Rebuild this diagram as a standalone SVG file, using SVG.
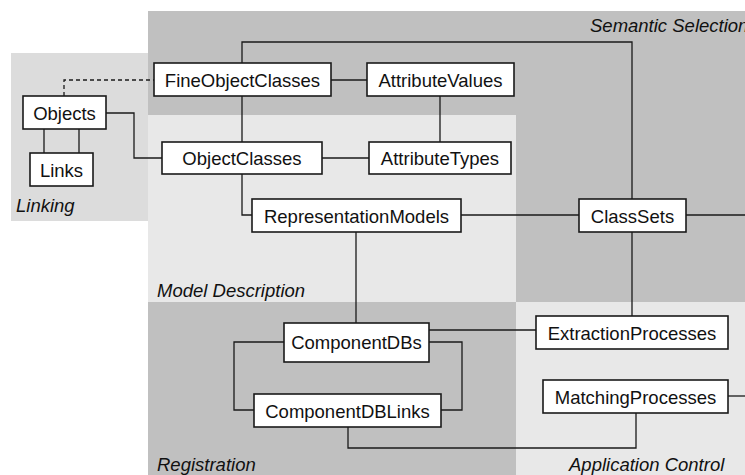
<svg xmlns="http://www.w3.org/2000/svg" width="745" height="475" viewBox="0 0 745 475">
  <style>
    .node rect { fill: #ffffff; stroke: #1a1a1a; stroke-width: 1.6; }
    .node text { font-family: "Liberation Sans", Arial, sans-serif; font-size: 18.5px; fill: #111; text-anchor: middle; }
    .area { font-family: "Liberation Sans", Arial, sans-serif; font-size: 18.5px; font-style: italic; fill: #111; }
    .links path { fill: none; stroke: #1a1a1a; stroke-width: 1.3; }
    .links .dash { stroke-dasharray: 4 3; }
  </style>
  <rect width="745" height="475" fill="#ffffff"/>

  <!-- areas -->
  <g id="areas">
    <rect x="148" y="11" width="597" height="291" fill="#c0c0c0"/>
    <rect x="148" y="115" width="368" height="187" fill="#e8e8e8"/>
    <rect x="148" y="302" width="368" height="173" fill="#c0c0c0"/>
    <rect x="516" y="302" width="229" height="173" fill="#e8e8e8"/>
    <rect x="11" y="53" width="137" height="168" fill="#dcdcdc"/>
    <text class="area" x="590" y="32">Semantic Selection</text>
    <text class="area" x="16" y="212">Linking</text>
    <text class="area" x="157" y="297">Model Description</text>
    <text class="area" x="157" y="471">Registration</text>
    <text class="area" x="569" y="471">Application Control</text>
  </g>

  <!-- connectors -->
  <g class="links" id="connectors">
    <path class="dash" d="M64,96 V80 H154"/>
    <path d="M242,63 V42 H632 V199"/>
    <path d="M331,80 H367"/>
    <path d="M242,96 V142"/>
    <path d="M440,96 V142"/>
    <path d="M106,113 H134 V158 H162"/>
    <path d="M44,129 V153"/>
    <path d="M79,129 V153"/>
    <path d="M322,158 H369"/>
    <path d="M242,174 V215 H252"/>
    <path d="M461,215 H579"/>
    <path d="M686,215 H745"/>
    <path d="M356,232 V323"/>
    <path d="M632,232 V316"/>
    <path d="M429,330 H536"/>
    <path d="M284,342 H234 V410 H254"/>
    <path d="M429,342 H462 V410 H441"/>
    <path d="M348,427 V448 H636 V413"/>
    <path d="M728,396 H745"/>
  </g>

  <!-- nodes -->
  <g id="FineObjectClasses" class="node"><rect x="154" y="63" width="177" height="33"/><text x="242.5" y="87">FineObjectClasses</text></g>
  <g id="AttributeValues" class="node"><rect x="367" y="63" width="147" height="33"/><text x="440.5" y="87">AttributeValues</text></g>
  <g id="Objects" class="node"><rect x="23" y="96" width="83" height="33"/><text x="64.5" y="120">Objects</text></g>
  <g id="Links" class="node"><rect x="30" y="153" width="63" height="33"/><text x="61.5" y="177">Links</text></g>
  <g id="ObjectClasses" class="node"><rect x="162" y="142" width="160" height="32"/><text x="242" y="165">ObjectClasses</text></g>
  <g id="AttributeTypes" class="node"><rect x="369" y="142" width="142" height="32"/><text x="440" y="165">AttributeTypes</text></g>
  <g id="RepresentationModels" class="node"><rect x="252" y="199" width="209" height="33"/><text x="356.5" y="223">RepresentationModels</text></g>
  <g id="ClassSets" class="node"><rect x="579" y="199" width="107" height="33"/><text x="632.5" y="223">ClassSets</text></g>
  <g id="ComponentDBs" class="node"><rect x="284" y="323" width="145" height="39"/><text x="356.5" y="349">ComponentDBs</text></g>
  <g id="ComponentDBLinks" class="node"><rect x="254" y="394" width="187" height="33"/><text x="347.5" y="418">ComponentDBLinks</text></g>
  <g id="ExtractionProcesses" class="node"><rect x="536" y="316" width="192" height="33"/><text x="632" y="340">ExtractionProcesses</text></g>
  <g id="MatchingProcesses" class="node"><rect x="543" y="380" width="185" height="33"/><text x="635.5" y="404">MatchingProcesses</text></g>
</svg>
